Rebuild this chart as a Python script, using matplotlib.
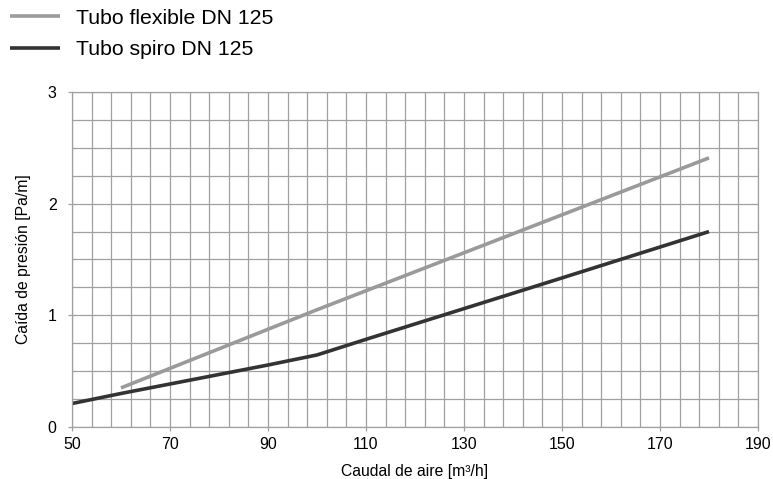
import numpy as np
from matplotlib import pyplot as plt

plt.rcParams['font.family'] = ['Liberation Sans', 'DejaVu Sans']

# data
flex_x = [60, 100, 140, 180]
flex_y = [0.35, 1.05, 1.73, 2.41]
spiro_x = [50, 60, 70, 80, 90, 100, 110, 130, 150, 180]
spiro_y = [0.21, 0.30, 0.385, 0.47, 0.555, 0.645, 0.785, 1.06, 1.335, 1.75]
labels = ["Tubo flexible DN 125", "Tubo spiro DN 125"]
colors = ["#9a9a9a", "#333333"]
xticks = [50, 70, 90, 110, 130, 150, 170, 190]
yticks = [0, 1, 2, 3]

fig = plt.figure(figsize=(7.73, 4.79), dpi=100)
ax = fig.add_axes([0.0931, 0.1086, 0.8875, 0.6993])

ax.set_xlim(50, 190)
ax.set_ylim(0, 3)
ax.set_xticks(xticks)
ax.set_xticks(np.arange(50, 191, 4), minor=True)
ax.set_yticks(yticks)
ax.set_yticks(np.arange(0, 3.01, 0.25), minor=True)
ax.grid(True, which='both', color='#a0a0a0', linewidth=0.9)
ax.set_axisbelow(True)
for s in ax.spines.values():
    s.set_color('#a0a0a0')
    s.set_linewidth(0.9)
ax.tick_params(which='major', length=3, width=0.9, color='#a0a0a0', labelsize=11.5, pad=4.5)
ax.tick_params(axis='y', pad=8)
ax.tick_params(which='minor', length=0)

l1, = ax.plot(flex_x, flex_y, color=colors[0], linewidth=2.6, solid_capstyle='butt')
l2, = ax.plot(spiro_x, spiro_y, color=colors[1], linewidth=2.6, solid_capstyle='butt')

ax.set_xlabel("Caudal de aire [m³/h]", fontsize=11.3, labelpad=8)
ax.set_ylabel("Caída de presión [Pa/m]", fontsize=11.3, labelpad=12)

fig.legend([l1, l2], labels, loc='upper left', bbox_to_anchor=(0.013, 0.982),
           frameon=False, fontsize=15.3, handlelength=2.35, handletextpad=0.75,
           labelspacing=0.58, borderaxespad=0, borderpad=0)

fig.savefig("out.png", dpi=100)
